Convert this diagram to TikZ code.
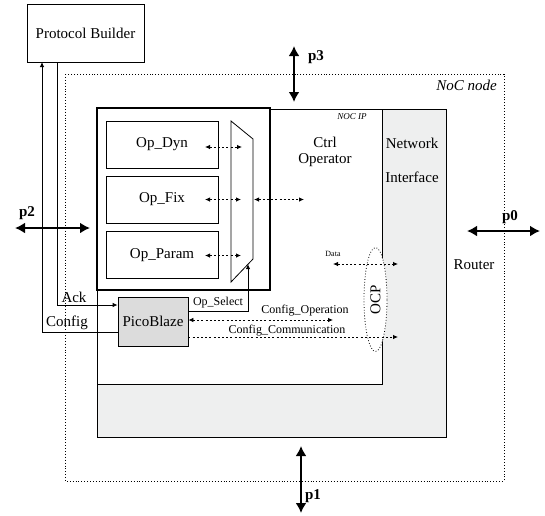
\documentclass[tikz,border=0pt]{standalone}
\usepackage{fontspec}
\setmainfont{Liberation Serif}
\usetikzlibrary{arrows.meta,shapes.geometric}
\definecolor{nigray}{RGB}{238,239,239}
\definecolor{pbgray}{RGB}{220,220,220}
\begin{document}
\begin{tikzpicture}[x=1pt,y=-1pt,
  font=\fontsize{15}{16}\selectfont,
  thinline/.style={line width=0.8pt},
  opbox/.style={draw, line width=0.8pt, minimum width=112pt, minimum height=47pt, inner sep=0pt},
  txt/.style={inner sep=0pt},
  smalltxt/.style={inner sep=0pt, font=\fontsize{12}{13}\selectfont},
  dots/.style={line width=0.8pt, dash pattern=on 2pt off 2.2pt},
  dtip/.style={dots, {Latex[length=5pt,width=4.5pt]}-{Latex[length=5pt,width=4.5pt]}},
  stip/.style={dots, -{Latex[length=5pt,width=4.5pt]}},
  port/.style={line width=2.2pt, {Latex[length=10pt,width=11pt]}-{Latex[length=10pt,width=11pt]}},
  plabel/.style={inner sep=0pt, font=\fontsize{15}{16}\selectfont\bfseries}
]
\useasboundingbox (0,0) rectangle (545,515);

% NoC node frame
\draw[dotted, line width=0.9pt] (65,74) rectangle (504,481);
\node[txt, anchor=east, font=\fontsize{15}{16}\selectfont\itshape] (nocnode) at (497,85) {NoC node};

% router / network interface gray body
\filldraw[fill=nigray, thinline] (97,109) rectangle (446,437);
\fill[white] (97,109) rectangle (382,384);
\draw[thinline] (97,384) -- (382,384) -- (382,109);
\draw[thinline] (97,109) -- (446,109);
\draw[thinline] (97,109) -- (97,437);

% NOC IP box
\draw[line width=1.6pt, fill=white] (97,108) rectangle (270,290);
\node[txt, font=\fontsize{9}{10}\selectfont\itshape] (nocip) at (352,117) {NOC IP};

% operators
\node[opbox] (dyn) at (162,144.5) {Op\_Dyn};
\node[opbox] (fix) at (162,199.5) {Op\_Fix};
\node[opbox] (param) at (162,255) {Op\_Param};

% mux
\coordinate (m1) at (231,121);
\coordinate (m2) at (253,139);
\coordinate (m3) at (253,259);
\coordinate (m4) at (231,282);
\draw[thinline] (m1) -- (m2) -- (m3) -- (m4) -- cycle;

\coordinate (d1) at (205,147); \coordinate (d2) at (242,147);
\coordinate (f1) at (205,199.5); \coordinate (f2) at (241,199.5);
\coordinate (p1a) at (205,255.5); \coordinate (p2a) at (241,255.5);
\draw[dtip] (d1) -- (d2);
\draw[dtip] (f1) -- (f2);
\draw[dtip] (p1a) -- (p2a);
\coordinate (mo1) at (254,199.5); \coordinate (mo2) at (304,199.5);
\draw[dtip] (mo1) -- (mo2);

\node[txt, align=center] (ctrl) at (325,152) {Ctrl\\Operator};
\node[txt] (net) at (412,143) {Network};
\node[txt] (intf) at (412,177) {Interface};
\node[txt] (router) at (474,265) {Router};

% Protocol Builder
\node[draw, thinline, minimum width=117pt, minimum height=58pt, inner sep=0pt] (pb) at (85.5,33) {Protocol Builder};

% PicoBlaze
\node[draw, thinline, fill=pbgray, minimum width=70pt, minimum height=49pt, inner sep=0pt] (pico) at (153,321.5) {PicoBlaze};

% Ack and Config
\draw[thinline, -{Latex[length=5pt,width=4.5pt]}] (57,63) -- (57,305) -- (pico.west |- 0,305);
\node[txt] (ack) at (74,297) {Ack};
\draw[thinline, -{Latex[length=5pt,width=4.5pt]}] (pico.west |- 0,332) -- (42,332) -- (42,62);
\node[txt] (config) at (67,323) {Config};

% Op_Select
\coordinate (msel) at (248,264.2);
\draw[thinline, -{Latex[length=5pt,width=4.5pt]}] (pico.east |- 0,311) -- (248,311) -- (msel);
\node[smalltxt] (opsel) at (218,303) {Op\_Select};

% OCP
\node[ellipse, draw, dotted, line width=0.8pt, fill=white, minimum width=23pt, minimum height=104pt, inner sep=0pt] (ocp) at (375.5,299.5) {};
\node[txt, rotate=90] (ocptxt) at (ocp) {OCP};

% config lines
\coordinate (co2) at (333,320);
\draw[dtip] (pico.east |- 0,320) -- (co2);
\node[smalltxt] (coptxt) at (305,311) {Config\_Operation};
\coordinate (cc2) at (398,337);
\draw[stip] (pico.east |- 0,337) -- (cc2);
\node[smalltxt] (cctxt) at (287,331) {Config\_Communication};

% data
\coordinate (da1) at (333,264); \coordinate (da2) at (398,264);
\draw[dtip] (da1) -- (da2);
\node[txt, font=\fontsize{8}{9}\selectfont] (datatxt) at (333,254) {Data};

% ports
\coordinate (p3a) at (294,46); \coordinate (p3b) at (294,102);
\draw[port] (p3a) -- (p3b);
\node[plabel] (p3) at (316,57) {p3};
\coordinate (p2a) at (15,228); \coordinate (p2b) at (90,228);
\draw[port] (p2a) -- (p2b);
\node[plabel] (p2l) at (27,213) {p2};
\coordinate (p0a) at (467,231); \coordinate (p0b) at (540,231);
\draw[port] (p0a) -- (p0b);
\node[plabel] (p0) at (510,217) {p0};
\coordinate (p1a) at (301,446); \coordinate (p1b) at (301,513);
\draw[port] (p1a) -- (p1b);
\node[plabel] (p1) at (313,496) {p1};
\end{tikzpicture}
\end{document}
